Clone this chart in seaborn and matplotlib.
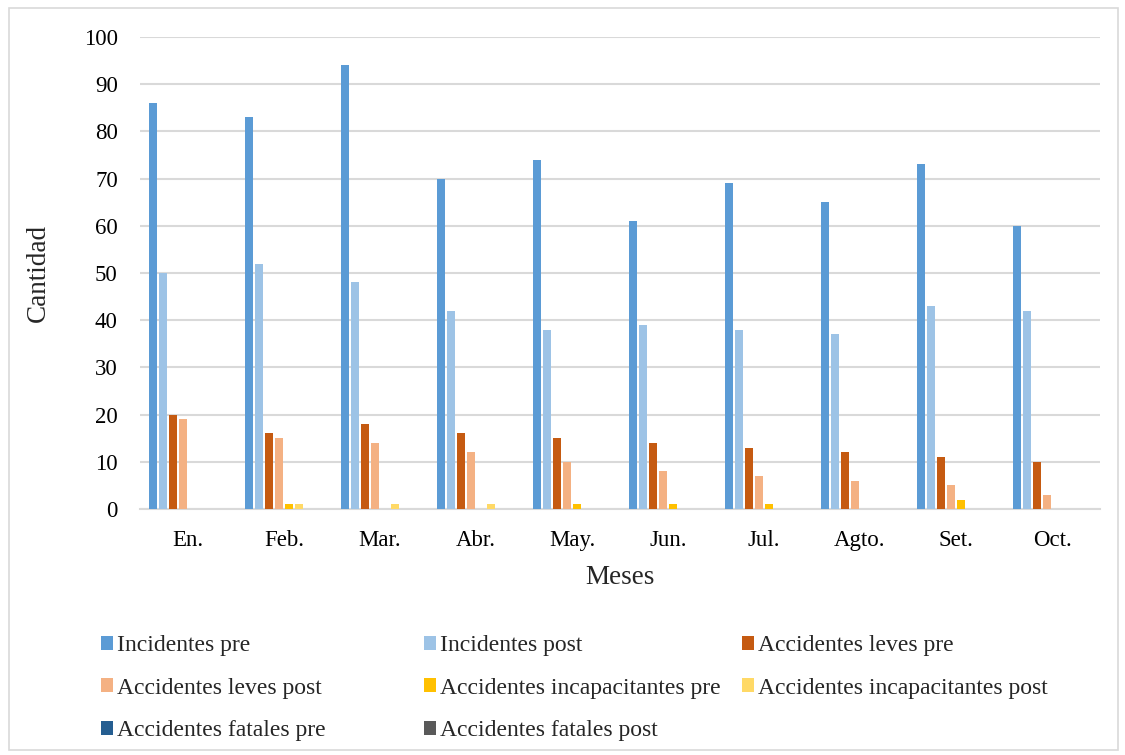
import matplotlib
matplotlib.use("Agg")
import matplotlib.pyplot as plt
import seaborn as sns
import pandas as pd
from matplotlib.patches import Patch, Rectangle

months = ["En.", "Feb.", "Mar.", "Abr.", "May.", "Jun.", "Jul.", "Agto.", "Set.", "Oct."]

incidentes_pre = [86, 83, 94, 70, 74, 61, 69, 65, 73, 60]
incidentes_post = [50, 52, 48, 42, 38, 39, 38, 37, 43, 42]
leves_pre = [20, 16, 18, 16, 15, 14, 13, 12, 11, 10]
leves_post = [19, 15, 14, 12, 10, 8, 7, 6, 5, 3]
incap_pre = [0, 1, 0, 0, 1, 1, 1, 0, 2, 0]
incap_post = [0, 1, 1, 1, 0, 0, 0, 0, 0, 0]
fatales_pre = [0, 0, 0, 0, 0, 0, 0, 0, 0, 0]
fatales_post = [0, 0, 0, 0, 0, 0, 0, 0, 0, 0]

series_names = [
    "Incidentes pre", "Incidentes post",
    "Accidentes leves pre", "Accidentes leves post",
    "Accidentes incapacitantes pre", "Accidentes incapacitantes post",
    "Accidentes fatales pre", "Accidentes fatales post",
]
series_values = [incidentes_pre, incidentes_post, leves_pre, leves_post,
                 incap_pre, incap_post, fatales_pre, fatales_post]
colors = ["#5B9BD5", "#9DC3E6", "#C55A11", "#F4B183",
          "#FFC000", "#FFD966", "#255E91", "#595959"]

rows = []
for name, vals in zip(series_names, series_values):
    for m, v in zip(months, vals):
        rows.append({"Mes": m, "Serie": name, "Cantidad": v})
df = pd.DataFrame(rows)

sns.set_theme(style="white")
plt.rcParams["font.family"] = ["Liberation Serif", "DejaVu Serif"]

fig = plt.figure(figsize=(11.25, 7.55), dpi=100)
ax = fig.add_axes([140 / 1125, 1 - 509 / 755, 960 / 1125, (509 - 37) / 755])

sns.barplot(data=df, x="Mes", y="Cantidad", hue="Serie", order=months,
            hue_order=series_names, palette=colors, saturation=1,
            width=0.83, gap=0.2, errorbar=None, legend=False, ax=ax,
            zorder=3, linewidth=0)

ax.set_ylim(0, 100)
ax.set_xlim(-0.5, len(months) - 0.5)
ax.set_yticks(range(0, 101, 10))
ax.yaxis.grid(True, color="#D9D9D9", linewidth=1.5, zorder=0)
ax.set_axisbelow(True)
for s in ["top", "right", "left"]:
    ax.spines[s].set_visible(False)
ax.spines["bottom"].set_color("#D9D9D9")
ax.spines["bottom"].set_linewidth(1.5)
ax.tick_params(axis="both", length=0, labelsize=16.5, colors="black")
ax.tick_params(axis="y", pad=16)
ax.tick_params(axis="x", pad=15)
ax.set_xlabel("Meses", fontsize=19.5, labelpad=10)
ax.set_ylabel("Cantidad", fontsize=19.5, labelpad=24)

# legend laid out in three columns, row-major order
col_x = [101 / 1125, 424 / 1125, 742 / 1125]
for c in range(3):
    idx = list(range(c, len(series_names), 3))
    handles = [Patch(facecolor=colors[i], edgecolor="none") for i in idx]
    labels = [series_names[i] for i in idx]
    fig.legend(handles, labels, loc="upper left",
               bbox_to_anchor=(col_x[c], 1 - 635 / 755), frameon=False,
               fontsize=17, handlelength=0.52, handleheight=0.52,
               handletextpad=0.17, labelspacing=0.92, borderaxespad=0,
               borderpad=0)

fig.patches.append(Rectangle((9 / 1125, 5 / 755), 1109 / 1125, 742 / 755,
                             transform=fig.transFigure, fill=False,
                             edgecolor="#D9D9D9", linewidth=1.2))

fig.savefig("out.png", dpi=100, facecolor="white")
